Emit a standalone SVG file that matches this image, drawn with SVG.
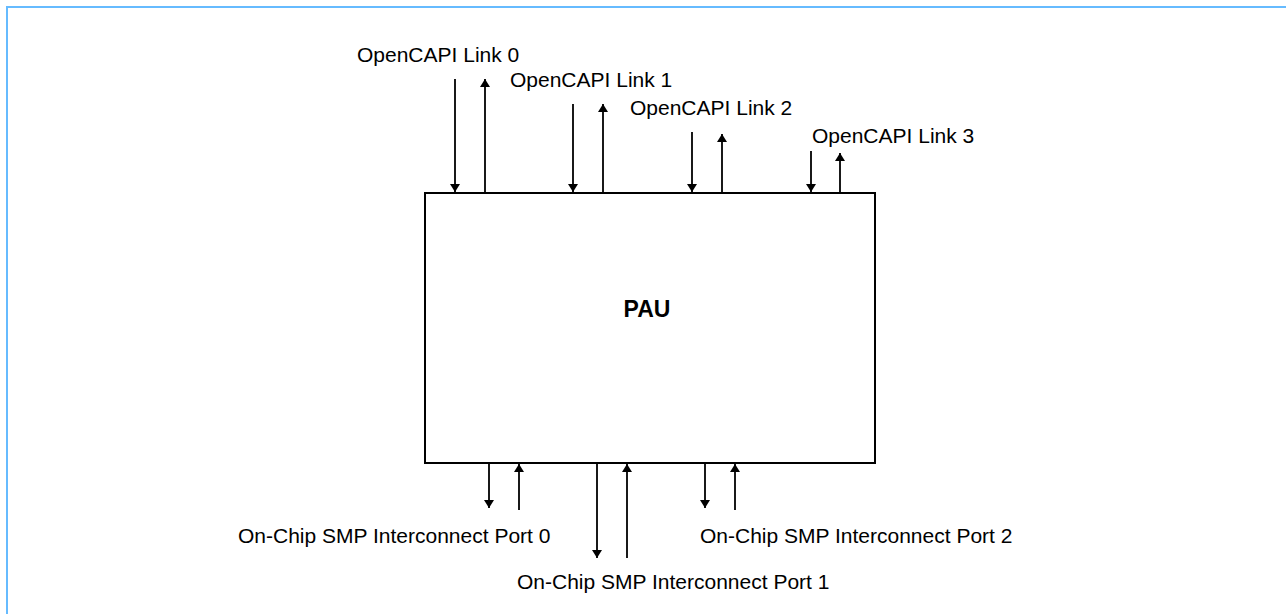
<svg xmlns="http://www.w3.org/2000/svg" width="1286" height="614" viewBox="0 0 1286 614">
<style>
.lbl{font-family:"Liberation Sans",Arial,sans-serif;font-size:21px;fill:#000}
.title{font-family:"Liberation Sans",Arial,sans-serif;font-size:23px;font-weight:bold;fill:#000}
.conn{stroke:#000;stroke-width:1.8;fill:none}
.box{stroke:#000;stroke-width:2;fill:#fff}
</style>
<defs>
<marker id="ah" viewBox="0 0 10 10" refX="10" refY="5" markerWidth="8" markerHeight="10" markerUnits="userSpaceOnUse" orient="auto" preserveAspectRatio="none">
<path d="M0,0 L10,5 L0,10 Z" fill="#000"/>
</marker>
</defs>
<rect width="1286" height="614" fill="#fff"/>
<path d="M7,614 L7,7 L1286,7" stroke="#66BBFF" stroke-width="2" fill="none"/>
<g id="pau">
<rect class="box" x="425" y="193" width="450" height="270"/>
<text class="title" x="647" y="317" text-anchor="middle">PAU</text>
</g>
<g id="link0"><text class="lbl" x="357" y="62">OpenCAPI Link 0</text></g>
<g id="link1"><text class="lbl" x="510" y="87">OpenCAPI Link 1</text></g>
<g id="link2"><text class="lbl" x="630" y="115">OpenCAPI Link 2</text></g>
<g id="link3"><text class="lbl" x="812" y="143">OpenCAPI Link 3</text></g>
<g id="port0"><text class="lbl" x="238" y="543">On-Chip SMP Interconnect Port 0</text></g>
<g id="port1"><text class="lbl" x="517" y="589">On-Chip SMP Interconnect Port 1</text></g>
<g id="port2"><text class="lbl" x="700" y="543">On-Chip SMP Interconnect Port 2</text></g>
<g id="connectors">
<line class="conn" x1="455" y1="79" x2="455" y2="192" marker-end="url(#ah)"/>
<line class="conn" x1="485" y1="193" x2="485" y2="79" marker-end="url(#ah)"/>
<line class="conn" x1="573" y1="104" x2="573" y2="192" marker-end="url(#ah)"/>
<line class="conn" x1="603" y1="193" x2="603" y2="104" marker-end="url(#ah)"/>
<line class="conn" x1="692" y1="132" x2="692" y2="192" marker-end="url(#ah)"/>
<line class="conn" x1="722" y1="193" x2="722" y2="134" marker-end="url(#ah)"/>
<line class="conn" x1="811" y1="151" x2="811" y2="192" marker-end="url(#ah)"/>
<line class="conn" x1="840" y1="193" x2="840" y2="153" marker-end="url(#ah)"/>
<line class="conn" x1="489" y1="463" x2="489" y2="508" marker-end="url(#ah)"/>
<line class="conn" x1="519" y1="510" x2="519" y2="464" marker-end="url(#ah)"/>
<line class="conn" x1="597" y1="463" x2="597" y2="558" marker-end="url(#ah)"/>
<line class="conn" x1="627" y1="558" x2="627" y2="464" marker-end="url(#ah)"/>
<line class="conn" x1="705" y1="463" x2="705" y2="508" marker-end="url(#ah)"/>
<line class="conn" x1="735" y1="510" x2="735" y2="464" marker-end="url(#ah)"/>
</g>
</svg>
